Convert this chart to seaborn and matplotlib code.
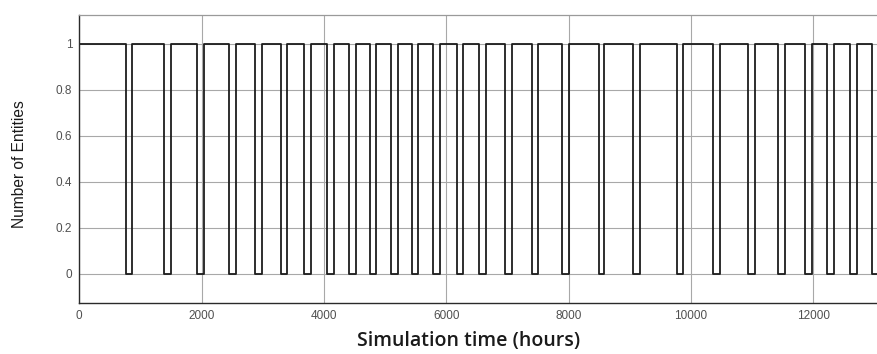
import matplotlib
matplotlib.use("Agg")
import matplotlib.pyplot as plt
import numpy as np
import pandas as pd
import seaborn as sns

# Times (hours) at which the entity leaves the system and returns to it
leave_times = [760, 1390, 1930, 2450, 2875, 3300, 3680, 4045, 4410, 4750,
               5095, 5445, 5790, 6170, 6535, 6960, 7395, 7895, 8490, 9055,
               9765, 10365, 10930, 11430, 11865, 12220, 12600, 12955]
return_times = [860, 1500, 2045, 2565, 2980, 3400, 3790, 4160, 4520, 4855,
                5205, 5545, 5895, 6280, 6645, 7070, 7495, 8005, 8570, 9165,
                9875, 10475, 11045, 11540, 11985, 12345, 12720, 13060]
sim_start, sim_end = 0, 13400
count_present, count_absent = 1, 0

x_ticks = [0, 2000, 4000, 6000, 8000, 10000, 12000]
y_ticks = [0, 0.2, 0.4, 0.6, 0.8, 1]
y_tick_labels = ["0", "0.2", "0.4", "0.6", "0.8", "1"]

# Build the entity-count trace from the event times
times = [sim_start]
counts = [count_present]
for t_out, t_back in zip(leave_times, return_times):
    times += [t_out, t_back]
    counts += [count_absent, count_present]
times.append(sim_end)
counts.append(count_present)
df = pd.DataFrame({"time": times, "entities": counts})

sns.set_theme(style="white")
plt.rcParams["font.family"] = ["Liberation Sans", "DejaVu Sans"]

fig = plt.figure(figsize=(8.77, 3.54), dpi=100)
ax = fig.add_axes([0.0904, 0.145, 0.9765, 0.8127])

sns.lineplot(data=df, x="time", y="entities", ax=ax, drawstyle="steps-post",
             estimator=None, color="#1c1c1c", linewidth=1.3)

ax.set_xlim(0, 14000)
ax.set_ylim(-0.125, 1.125)
ax.set_xticks(x_ticks)
ax.set_xticklabels([str(v) for v in x_ticks])
ax.set_yticks(y_ticks)
ax.set_yticklabels(y_tick_labels)

ax.grid(True, color="#a8a8a8", linewidth=0.8)
ax.set_axisbelow(True)

ax.tick_params(axis="both", direction="in", length=3, width=0.8,
               colors="#333333", labelcolor="#505050", labelsize=8.5, pad=5)
for side in ("left", "bottom"):
    ax.spines[side].set_color("#2a2a2a")
    ax.spines[side].set_linewidth(1.0)
ax.spines["top"].set_color("#9a9a9a")
ax.spines["top"].set_linewidth(0.9)
ax.spines["right"].set_visible(False)

ax.set_xlabel("Simulation time (hours)", family=["Open Sans", "DejaVu Sans"],
              fontsize=14, fontweight="semibold", color="#1a1a1a")
ax.xaxis.set_label_coords(0.454, -0.169, transform=ax.transAxes)
ax.xaxis.label.set_va("bottom")

ax.set_ylabel("Number of Entities", family=["Liberation Sans", "DejaVu Sans"],
              fontsize=11.2, color="#1a1a1a")
ax.yaxis.set_label_coords(-0.061, 0.48, transform=ax.transAxes)

fig.savefig("out.png", dpi=100)
